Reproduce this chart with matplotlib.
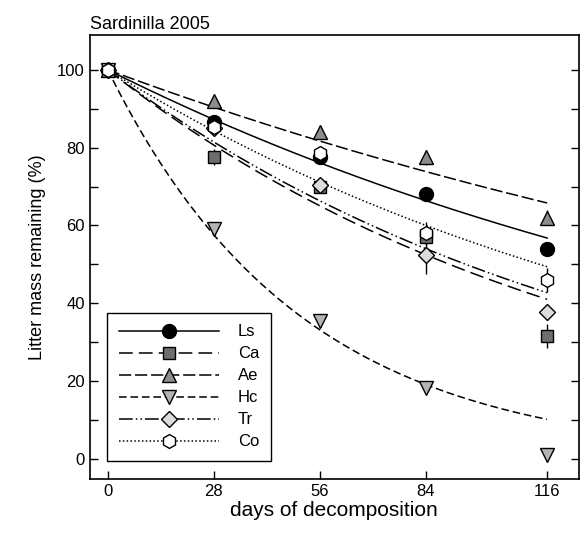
import matplotlib
matplotlib.use("Agg")
import matplotlib.pyplot as plt
import numpy as np

plt.rcParams['font.family'] = ['Liberation Sans', 'DejaVu Sans']

# sampling days
days = [0, 28, 56, 84, 116]

# litter mass remaining (%) per species
species = ['Ls', 'Ca', 'Ae', 'Hc', 'Tr', 'Co']
mass = {
    'Ls': [100, 86.5, 77.5, 68.2, 54.0],
    'Ca': [100, 77.6, 70.0, 57.0, 31.6],
    'Ae': [100, 92.0, 84.0, 77.5, 62.0],
    'Hc': [100, 59.0, 35.5, 18.3, 1.0],
    'Tr': [100, 85.0, 70.5, 52.5, 37.8],
    'Co': [100, 85.3, 78.7, 58.0, 46.0],
}
err = {
    'Ls': [0, 1.0, 1.0, 1.0, 1.0],
    'Ca': [0, 2.0, 1.0, 1.5, 3.0],
    'Ae': [0, 1.0, 1.5, 2.0, 2.0],
    'Hc': [0, 1.0, 1.5, 1.0, 1.0],
    'Tr': [0, 1.0, 1.5, 5.0, 2.0],
    'Co': [0, 1.0, 1.5, 3.0, 3.0],
}
# fitted single-exponential decay rates (1/day)
k_rate = {'Ls': 0.00488, 'Ca': 0.00768, 'Ae': 0.00361,
          'Hc': 0.0197, 'Tr': 0.00733, 'Co': 0.00608}

markers = {'Ls': 'o', 'Ca': 's', 'Ae': '^', 'Hc': 'v', 'Tr': 'D', 'Co': 'h'}
faces = {'Ls': 'black', 'Ca': '#6e6e6e', 'Ae': '#8c8c8c',
         'Hc': '#b4b4b4', 'Tr': '#dcdcdc', 'Co': 'white'}
msizes = {'Ls': 10, 'Ca': 9, 'Ae': 10, 'Hc': 10, 'Tr': 8, 'Co': 10}
dashes = {'Ls': (None, None), 'Ca': (9, 4), 'Ae': (8, 2.5),
          'Hc': (5, 2.5), 'Tr': (9, 2, 1, 2, 1, 2), 'Co': (1, 1.5)}

fig = plt.figure(figsize=(5.83, 5.35), dpi=100)
ax = fig.add_axes([0.154, 0.105, 0.839, 0.830])

t = np.linspace(0, 116, 200)
handles = []
for sp in species:
    ls = '-' if sp == 'Ls' else (0, dashes[sp])
    fit = 100 * np.exp(-k_rate[sp] * t)
    ax.plot(t, fit, color='black', lw=1.1, linestyle=ls, zorder=2)
    ax.errorbar(days, mass[sp], yerr=err[sp], fmt='none', ecolor='black',
                elinewidth=1.0, capsize=0, zorder=3)
    ax.plot(days, mass[sp], linestyle='none', marker=markers[sp],
            markersize=msizes[sp], markerfacecolor=faces[sp],
            markeredgecolor='black', markeredgewidth=1.0, zorder=4)
    h, = ax.plot([], [], color='black', lw=1.1, linestyle=ls,
                 marker=markers[sp], markersize=msizes[sp],
                 markerfacecolor=faces[sp], markeredgecolor='black',
                 markeredgewidth=1.0)
    handles.append(h)

leg = ax.legend(handles, species, loc='lower left', bbox_to_anchor=(0.035, 0.04),
                borderaxespad=0, handlelength=6.0, handletextpad=1.15,
                fontsize=12, labelspacing=0.42, borderpad=0.7,
                fancybox=False, edgecolor='black', framealpha=1)
leg.get_frame().set_linewidth(1.0)

ax.set_xlim(-4.75, 124.4)
ax.set_ylim(-5.1, 109)
ax.set_xticks(days)
ax.set_yticks(range(0, 101, 20))
ax.set_yticks(range(0, 101, 10), minor=True)
ax.tick_params(axis='both', direction='in', labelsize=12, length=6, width=1,
               right=True, top=False)
ax.tick_params(axis='y', which='minor', direction='in', length=6, width=1,
               right=True)
for s in ax.spines.values():
    s.set_linewidth(1.2)

ax.set_xlabel('days of decomposition', fontsize=15, labelpad=2)
ax.set_ylabel('Litter mass remaining (%)', fontsize=13, labelpad=8)
ax.set_title('Sardinilla 2005', fontsize=13, loc='left', pad=4)

fig.savefig('out.png', dpi=100)
